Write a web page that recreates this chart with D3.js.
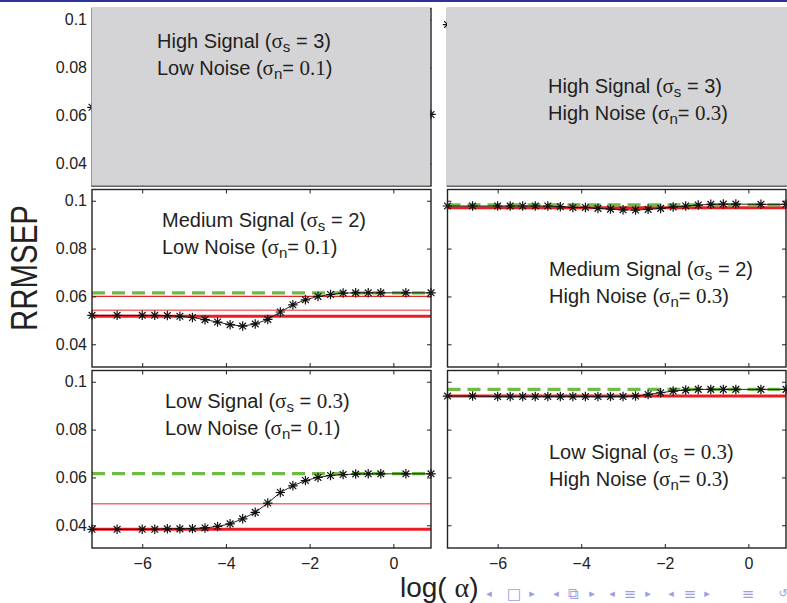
<!DOCTYPE html>
<html>
<head>
<meta charset="utf-8">
<script src="https://cdn.jsdelivr.net/npm/d3@7"></script>
<style>
body { margin: 0; background: #fff; }
svg { display: block; }
</style>
</head>
<body>
<script>
// log(alpha) grid
const logAlpha = [-7.2, -6.6, -6.0, -5.7, -5.4, -5.1, -4.8, -4.5, -4.2, -3.9, -3.6, -3.3,
    -3.0, -2.7, -2.4, -2.1, -1.8, -1.5, -1.2, -0.9, -0.6, -0.3, 0.3, 0.9];

// RRMSEP curves
const medLowRrmsep = [0.0521, 0.0521, 0.0521, 0.0521, 0.0520, 0.0517, 0.0512, 0.0503, 0.0493, 0.0482,
    0.0476, 0.0485, 0.0504, 0.0535, 0.0565, 0.0586, 0.0600, 0.0608, 0.0614, 0.0615, 0.0615, 0.0615, 0.0615, 0.0615];
const medHighRrmsep = [0.0978, 0.0978, 0.0978, 0.0978, 0.0978, 0.0978, 0.0978, 0.0975, 0.0972, 0.0972,
    0.0968, 0.0965, 0.0962, 0.0961, 0.0964, 0.0968, 0.0974, 0.0978, 0.0982, 0.0985, 0.0986, 0.0986, 0.0985, 0.0985];
const lowLowRrmsep = [0.0383, 0.0383, 0.0383, 0.0383, 0.0385, 0.0385, 0.0386, 0.0389, 0.0395, 0.0406,
    0.0427, 0.0454, 0.0493, 0.0537, 0.0565, 0.0587, 0.0600, 0.0608, 0.0612, 0.0614, 0.0615, 0.0615, 0.0615, 0.0615];
const lowHighRrmsep = [0.0940, 0.0940, 0.0938, 0.0938, 0.0938, 0.0938, 0.0938, 0.0938, 0.0938, 0.0938,
    0.0938, 0.0938, 0.0938, 0.0940, 0.0947, 0.0954, 0.0961, 0.0965, 0.0968, 0.0968, 0.0968, 0.0968, 0.0968, 0.0968];

// only the edge markers of the top row show past the grey overlay
const topLowEdgeX = [-7.2, 0.9];
const topLowEdge = [0.0634, 0.0604];
const topHighEdgeX = [-7.2];
const topHighEdge = [0.098];

// reference levels
const medLowRef = { red: 0.0517, thin: [0.0600], pink: [0.0542], green: 0.0615 };
const medHighRef = { red: 0.0971, thin: [], pink: [], green: 0.0983 };
const lowLowRef = { red: 0.0383, thin: [], pink: [0.0490], green: 0.0616 };
const lowHighRef = { red: 0.0940, thin: [], pink: [], green: 0.0968 };

// labels
const signalNames = ['High Signal', 'Medium Signal', 'Low Signal'];
const signalSigma = ['3', '2', '0.3'];
const noiseNames = ['Low Noise', 'High Noise'];
const noiseSigma = ['0.1', '0.3'];

const xTicks = [-6, -4, -2, 0];
const yTicks = [0.04, 0.06, 0.08, 0.1];

const width = 787;
const height = 603;

const svg = d3.select('body')
    .append('svg')
    .attr('width', width)
    .attr('height', height);

// beamer frame line at top
svg.append('rect')
    .attr('x', 0).attr('y', 0)
    .attr('width', width).attr('height', 2)
    .attr('fill', '#30309c');

// panel geometry
const colX = [[92, 431], [447.5, 786]];
const rowY = [[8.5, 186], [189.5, 367], [370.5, 548]];

const panels = [
    { row: 0, col: 0, xs: topLowEdgeX, ys: topLowEdge, ref: null, tx: 157, ty: 43, cover: true },
    { row: 0, col: 1, xs: topHighEdgeX, ys: topHighEdge, ref: null, tx: 548, ty: 88, cover: true },
    { row: 1, col: 0, xs: logAlpha, ys: medLowRrmsep, ref: medLowRef, tx: 162, ty: 222 },
    { row: 1, col: 1, xs: logAlpha, ys: medHighRrmsep, ref: medHighRef, tx: 549, ty: 271 },
    { row: 2, col: 0, xs: logAlpha, ys: lowLowRrmsep, ref: lowLowRef, tx: 165, ty: 403 },
    { row: 2, col: 1, xs: logAlpha, ys: lowHighRrmsep, ref: lowHighRef, tx: 549, ty: 454 }
];

// asterisk marker like matlab '*'
const asterisk = {
    draw(ctx, size) {
        const r = Math.sqrt(size) / 2;
        const d = r * Math.SQRT1_2;
        ctx.moveTo(-r, 0); ctx.lineTo(r, 0);
        ctx.moveTo(0, -r); ctx.lineTo(0, r);
        ctx.moveTo(-d, -d); ctx.lineTo(d, d);
        ctx.moveTo(-d, d); ctx.lineTo(d, -d);
    }
};
const markerPath = d3.symbol().type(asterisk).size(90)();

const tickFont = '"Liberation Sans", Arial, sans-serif';

panels.forEach(p => {
    const [x0, x1] = colX[p.col];
    const [y0, y1] = rowY[p.row];
    const x = d3.scaleLinear().domain([-7.2, 0.9]).range([x0, x1]);
    const y = d3.scaleLinear().domain([0.0305, 0.1047]).range([y1, y0]);
    const g = svg.append('g');

    // reference lines
    if (p.ref) {
        const hline = (v, color, w, dash) => {
            g.append('line')
                .attr('x1', x0).attr('x2', x1)
                .attr('y1', y(v)).attr('y2', y(v))
                .attr('stroke', color)
                .attr('stroke-width', w)
                .attr('stroke-dasharray', dash || null);
        };
        p.ref.pink.forEach(v => hline(v, '#ef7070', 1.5));
        p.ref.thin.forEach(v => hline(v, '#e8242a', 1.2));
        hline(p.ref.red, '#ec1c24', 3);
        hline(p.ref.green, '#6dbb45', 3.2, '13,7');
    }

    // curve
    const pts = p.xs.map((d, i) => [d, p.ys[i]]);
    const line = d3.line().x(d => x(d[0])).y(d => y(d[1]));
    if (pts.length > 2) {
        g.append('path')
            .attr('d', line(pts))
            .attr('fill', 'none')
            .attr('stroke', '#111')
            .attr('stroke-width', 0.9);
    }
    g.selectAll('path.mk')
        .data(pts)
        .enter()
        .append('path')
        .attr('class', 'mk')
        .attr('d', markerPath)
        .attr('transform', d => 'translate(' + x(d[0]) + ',' + y(d[1]) + ')')
        .attr('fill', 'none')
        .attr('stroke', '#111')
        .attr('stroke-width', 1.2);

    // inward ticks on all four sides
    const axes = [
        [d3.axisBottom(x).tickValues(xTicks), 'translate(0,' + y1 + ')', p.row === 2],
        [d3.axisTop(x).tickValues(xTicks), 'translate(0,' + y0 + ')', false],
        [d3.axisLeft(y).tickValues(yTicks), 'translate(' + x0 + ',0)', p.col === 0],
        [d3.axisRight(y).tickValues(yTicks), 'translate(' + x1 + ',0)', false]
    ];
    axes.forEach(([ax, tr, showLabels], i) => {
        ax.tickSizeInner(-4).tickSizeOuter(0)
            .tickPadding(i === 0 ? 10 : 5)
            .tickFormat(showLabels ? (i === 0 ? d3.format('d') : d => String(d)) : '');
        const a = g.append('g').attr('transform', tr).call(ax);
        a.select('.domain').remove();
        a.selectAll('line').attr('stroke', '#222');
        a.selectAll('text')
            .attr('font-family', tickFont)
            .attr('font-size', 16)
            .attr('fill', '#222');
    });

    // frame
    g.append('rect')
        .attr('x', x0).attr('y', y0)
        .attr('width', x1 - x0).attr('height', y1 - y0)
        .attr('fill', 'none')
        .attr('stroke', '#222')
        .attr('stroke-width', 1.4);

    // grey overlay of the top row
    if (p.cover) {
        g.append('rect')
            .attr('x', x0 - 0.5).attr('y', 7)
            .attr('width', x1 - x0 - 0.5 + (p.col === 1 ? 2 : 0)).attr('height', y1 - 7 - 0.5)
            .attr('fill', '#d4d4d6');
    }

    // annotation
    const sIdx = p.row;
    const nIdx = p.col;
    const t = g.append('text')
        .attr('x', p.tx).attr('y', p.ty)
        .attr('font-family', '"Liberation Sans", Arial, sans-serif')
        .attr('font-size', 20)
        .attr('fill', '#231f20')
        .attr('dominant-baseline', 'middle');
    const serif = '"Liberation Serif", "Times New Roman", serif';
    const isDec = v => v.indexOf('.') >= 0;
    t.append('tspan').text(signalNames[sIdx] + ' (');
    t.append('tspan').attr('font-family', serif).attr('font-size', 21).text('σ');
    t.append('tspan').attr('font-size', 15).attr('dy', 5).text('s');
    t.append('tspan').attr('dy', -5).text(' = ');
    t.append('tspan').attr('font-family', isDec(signalSigma[sIdx]) ? serif : null)
        .attr('font-size', isDec(signalSigma[sIdx]) ? 21 : null)
        .text(signalSigma[sIdx]);
    t.append('tspan').text(')');

    t.append('tspan').attr('x', p.tx).attr('dy', 27).text(noiseNames[nIdx] + ' (');
    t.append('tspan').attr('font-family', serif).attr('font-size', 21).text('σ');
    t.append('tspan').attr('font-size', 15).attr('dy', 5).text('n');
    t.append('tspan').attr('dy', -5).text('= ');
    t.append('tspan').attr('font-family', serif).attr('font-size', 21).text(noiseSigma[nIdx]);
    t.append('tspan').text(')');
});

// axis titles
svg.append('text')
    .attr('transform', 'translate(37,268) rotate(-90)')
    .attr('text-anchor', 'middle')
    .attr('font-family', tickFont)
    .attr('font-size', 36)
    .attr('textLength', 126)
    .attr('lengthAdjust', 'spacingAndGlyphs')
    .attr('fill', '#222')
    .text('RRMSEP');

const xl = svg.append('text')
    .attr('x', 400).attr('y', 597)
    .attr('font-family', tickFont)
    .attr('font-size', 28)
    .attr('fill', '#222');
xl.append('tspan').text('log( ');
xl.append('tspan').attr('font-family', '"Liberation Serif", serif').attr('font-size', 28).text('α');
xl.append('tspan').text(')');

// beamer navigation symbols
const navSyms = ['◂', '□', '▸', '◂', '⧉', '▸', '◂', '≡', '▸', '◂', '≡', '▸', '≡', '↺'];
const navX = [489, 514, 532, 556, 573, 592, 612, 630, 648, 671, 690, 707, 748, 783];
svg.append('g')
    .selectAll('text')
    .data(navSyms)
    .enter()
    .append('text')
    .attr('x', (d, i) => navX[i])
    .attr('y', 594)
    .attr('text-anchor', 'middle')
    .attr('dominant-baseline', 'middle')
    .attr('font-family', '"DejaVu Sans", sans-serif')
    .attr('font-size', (d, i) => (d === '□' || d === '⧉' || d === '≡') ? 15 : 11)
    .attr('fill', '#9d9de0')
    .text(d => d);
</script>
</body>
</html>
